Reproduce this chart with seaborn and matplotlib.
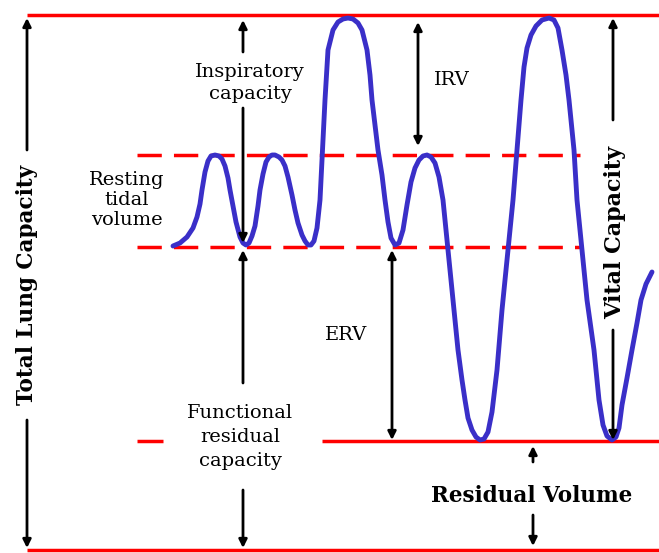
import matplotlib
matplotlib.use('Agg')
import matplotlib.pyplot as plt
import numpy as np
import pandas as pd
import seaborn as sns

sns.set_style('white')
plt.rcParams['font.family'] = ['DejaVu Serif']
plt.rcParams['text.color'] = 'black'

# spirometer trace (x = time, y = pixel row from top)
t = [173, 180, 187, 193, 197, 200, 202, 205, 208, 211, 215, 219, 222, 225, 228, 230, 233, 236, 240, 243, 246, 249,
     252, 255, 258, 260, 263, 266, 269, 272, 275, 279, 282, 285, 288, 292, 295, 298, 302, 305, 308, 311, 314,
     317, 320, 322, 324, 325, 328, 333, 338, 343, 348, 353, 358, 362, 367, 370, 372, 375, 378, 382, 385, 388,
     391, 395, 399, 403, 407, 411, 415, 419, 423, 427, 431, 435, 439, 443, 446, 448, 453, 458, 462, 465, 468,
     472, 476, 480, 484, 488, 492, 497, 502, 508, 513, 517, 521, 524, 527, 531, 536, 542, 549, 554, 558, 562,
     566, 569, 574, 577, 582, 587, 594, 599, 603, 607, 612, 616, 619, 622, 627, 632, 637, 641, 646, 652]
vol = [246, 243, 237, 228, 217, 204, 190, 172, 161, 156, 155, 156, 159, 166, 178, 190, 206, 222, 237, 243, 245, 243,
       236, 226, 206, 190, 174, 162, 157, 155, 155, 157, 160, 166, 177, 195, 210, 223, 235, 241, 245, 245, 241,
       228, 200, 160, 120, 100, 50, 30, 22, 19, 18, 19, 23, 30, 50, 75, 100, 125, 150, 175, 200, 222,
       238, 245, 243, 230, 205, 182, 168, 160, 156, 155, 157, 163, 177, 200, 230, 250, 300, 350, 380, 400, 418,
       430, 437, 440, 439, 432, 412, 370, 310, 250, 200, 150, 100, 67, 48, 35, 26, 20, 18, 20, 28, 50,
       75, 100, 150, 200, 250, 300, 350, 400, 425, 436, 440, 437, 428, 405, 378, 350, 323, 300, 284, 272]

# reference levels (pixel rows)
tlc_top = 15
tidal_top = 155
tidal_bottom = 247
rv_level = 441
bottom = 550

trace = pd.DataFrame({'t': t, 'vol': vol})

fig = plt.figure(figsize=(6.59, 5.53), dpi=100)
ax = fig.add_axes([0, 0, 1, 1])

red = '#ff0000'
ax.hlines([tlc_top, bottom], 27, 659, color=red, lw=2.5)
ax.hlines(rv_level, 322, 659, color=red, lw=2.5)
ax.hlines(rv_level, 137, 163, color=red, lw=2.5)
ax.hlines([tidal_top, tidal_bottom], 137, 580, color=red, lw=2.5, linestyles=(0, (7, 3.5)))

sns.lineplot(data=trace, x='t', y='vol', ax=ax, color='#3a2fc8', lw=3.5, sort=False)
ax.lines[-1].set_solid_joinstyle('round')
ax.set_xlim(0, 659)
ax.set_ylim(553, 0)
ax.axis('off')


def arrow(x, y0, y1, style='-|>'):
    ax.annotate('', xy=(x, y1), xytext=(x, y0),
                arrowprops=dict(arrowstyle=style, lw=2, color='black', mutation_scale=12,
                                shrinkA=0, shrinkB=0))


# total lung capacity
arrow(27, 150, 18)
arrow(27, 420, 548)
ax.text(27, 285, 'Total Lung Capacity', rotation=90, ha='center', va='center',
        fontsize=15.5, fontweight='bold')

# inspiratory capacity
arrow(243, 52, 20)
arrow(243, 108, 243)
ax.text(250, 83, 'Inspiratory\ncapacity', ha='center', va='center', fontsize=14, linespacing=1.3)

# resting tidal volume
ax.text(127, 200, 'Resting\ntidal\nvolume', ha='center', va='center', fontsize=14, linespacing=1.15)

# functional residual capacity
arrow(243, 383, 250)
arrow(243, 490, 548)
ax.text(240, 437, 'Functional\nresidual\ncapacity', ha='center', va='center', fontsize=14, linespacing=1.4)

# IRV / ERV
arrow(418, 22, 146, style='<|-|>')
ax.text(452, 80, 'IRV', ha='center', va='center', fontsize=14)
arrow(392, 250, 440, style='<|-|>')
ax.text(346, 335, 'ERV', ha='center', va='center', fontsize=14)

# vital capacity
arrow(613, 120, 18)
arrow(613, 330, 440)
ax.text(615, 232, 'Vital Capacity', rotation=90, ha='center', va='center',
        fontsize=16, fontweight='bold')

# residual volume
arrow(533, 462, 446)
arrow(533, 515, 546)
ax.text(532, 496, 'Residual Volume', ha='center', va='center', fontsize=15.5, fontweight='bold')

fig.savefig('out.png', dpi=100)
